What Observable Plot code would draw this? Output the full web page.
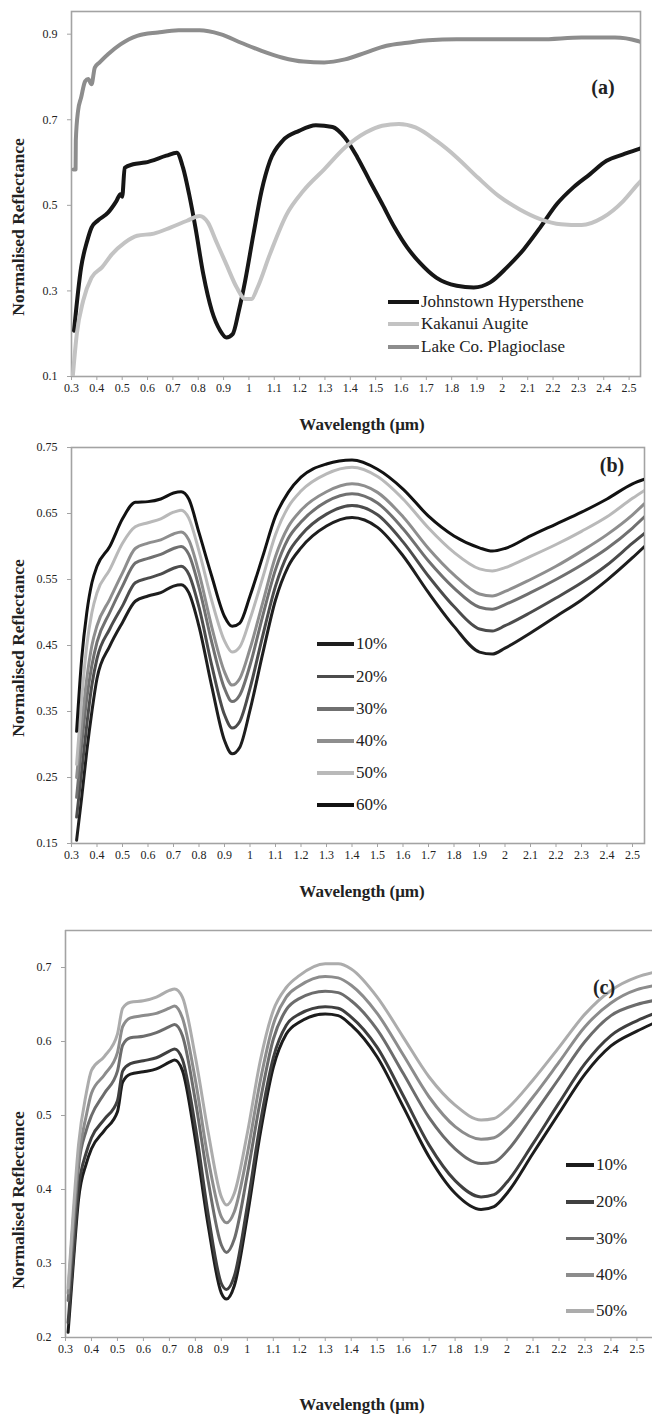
<!DOCTYPE html>
<html><head><meta charset="utf-8">
<script src="https://cdn.jsdelivr.net/npm/d3@7"></script>
<script src="https://cdn.jsdelivr.net/npm/@observablehq/plot@0.6"></script>
<style>
html,body{margin:0;padding:0;background:#fff;}
#root{position:relative;width:652px;height:1414px;overflow:hidden;font-family:"Liberation Serif","Times New Roman",serif;color:#222;}
#root svg text{font-family:"Liberation Serif","Times New Roman",serif;}
.panel{position:absolute;left:0;}
.lab{position:absolute;white-space:nowrap;}
.xt{font-weight:bold;font-size:17px;transform:translate(-50%,-50%);}
.yt{font-weight:bold;font-size:17.5px;transform:translate(-50%,-50%) rotate(-90deg);}
.tag{font-weight:bold;font-size:20px;transform:translate(-50%,-50%);}
.leg{position:absolute;display:flex;align-items:center;font-size:17px;white-space:nowrap;transform:translateY(-50%);}
.sw{display:inline-block;height:4px;margin-right:2px;}
</style></head><body><div id="root"></div>
<script>
// ---------- shared x ticks ----------
const xTicks = [0.3,0.4,0.5,0.6,0.7,0.8,0.9,1.0,1.1,1.2,1.3,1.4,1.5,1.6,1.7,1.8,1.9,2.0,2.1,2.2,2.3,2.4,2.5];
const xTickLabels = ["0.3","0.4","0.5","0.6","0.7","0.8","0.9","1","1.1","1.2","1.3","1.4","1.5","1.6","1.7","1.8","1.9","2","2.1","2.2","2.3","2.4","2.5"];

// ---------- panel (a) ----------
const yTicksA = [0.1,0.3,0.5,0.7,0.9];
const yTickLabelsA = ["0.1","0.3","0.5","0.7","0.9"];
const seriesA = ["Johnstown Hypersthene","Kakanui Augite","Lake Co. Plagioclase"];
const hyperWl = [0.31,0.338,0.362,0.379,0.403,0.444,0.477,0.493,0.50,0.51,0.543,0.59,0.674,0.715,0.74,0.764,0.789,0.82,0.854,0.887,0.911,0.936,0.96,0.985,1.018,1.05,1.083,1.133,1.198,1.264,1.33,1.379,1.428,1.477,1.526,1.575,1.625,1.674,1.739,1.82,1.887,1.952,2.018,2.084,2.149,2.215,2.28,2.346,2.411,2.477,2.534,2.545];
const hyperR = [0.207,0.355,0.417,0.448,0.464,0.483,0.51,0.526,0.52,0.588,0.596,0.60,0.616,0.623,0.588,0.526,0.448,0.339,0.253,0.207,0.191,0.199,0.253,0.323,0.433,0.534,0.604,0.651,0.674,0.687,0.683,0.658,0.612,0.557,0.503,0.448,0.401,0.366,0.331,0.312,0.308,0.32,0.355,0.397,0.448,0.503,0.542,0.573,0.604,0.619,0.631,0.633];
const augWl = [0.305,0.321,0.346,0.379,0.42,0.46,0.51,0.559,0.625,0.69,0.756,0.805,0.838,0.87,0.911,0.952,0.985,1.01,1.034,1.083,1.149,1.215,1.297,1.379,1.461,1.526,1.592,1.657,1.739,1.82,1.903,1.985,2.067,2.149,2.231,2.313,2.395,2.477,2.534,2.545];
const augR = [0.10,0.20,0.277,0.331,0.355,0.386,0.413,0.429,0.434,0.448,0.464,0.475,0.46,0.417,0.362,0.308,0.281,0.281,0.308,0.386,0.479,0.534,0.584,0.635,0.67,0.686,0.69,0.682,0.651,0.612,0.565,0.522,0.491,0.468,0.456,0.454,0.471,0.51,0.549,0.556];
const plagWl = [0.308,0.316,0.317,0.326,0.338,0.354,0.366,0.379,0.392,0.411,0.444,0.493,0.559,0.641,0.723,0.805,0.887,0.969,1.05,1.133,1.215,1.297,1.379,1.461,1.543,1.625,1.707,1.82,1.985,2.149,2.313,2.444,2.534,2.545];
const plagR = [0.584,0.584,0.651,0.721,0.752,0.79,0.795,0.783,0.822,0.834,0.853,0.876,0.896,0.904,0.909,0.909,0.90,0.88,0.861,0.845,0.836,0.834,0.841,0.857,0.873,0.88,0.886,0.888,0.888,0.888,0.892,0.892,0.884,0.882];
const colorsA = ["#161616","#c3c3c3","#8d8d8d"];

// ---------- panel (b) ----------
const yTicksB = [0.15,0.25,0.35,0.45,0.55,0.65,0.75];
const yTickLabelsB = ["0.15","0.25","0.35","0.45","0.55","0.65","0.75"];
const seriesB = ["10%","20%","30%","40%","50%","60%"];
const bWl = [0.32,0.34,0.36,0.38,0.40,0.45,0.50,0.55,0.60,0.65,0.70,0.73,0.76,0.80,0.85,0.90,0.93,0.96,1.00,1.05,1.10,1.15,1.20,1.30,1.40,1.50,1.60,1.70,1.80,1.90,1.95,2.00,2.10,2.20,2.30,2.40,2.50,2.547];
const b10 = [0.155,0.22,0.29,0.35,0.40,0.449,0.485,0.517,0.525,0.530,0.540,0.542,0.530,0.479,0.388,0.306,0.286,0.296,0.352,0.438,0.519,0.570,0.598,0.631,0.644,0.629,0.586,0.530,0.479,0.440,0.437,0.446,0.469,0.494,0.519,0.549,0.583,0.600];
const b20 = [0.19,0.26,0.33,0.39,0.43,0.475,0.51,0.545,0.552,0.558,0.567,0.570,0.558,0.508,0.420,0.345,0.325,0.335,0.385,0.465,0.540,0.590,0.617,0.649,0.662,0.648,0.607,0.555,0.509,0.475,0.472,0.480,0.500,0.522,0.545,0.572,0.605,0.620];
const b30 = [0.22,0.30,0.37,0.42,0.455,0.50,0.54,0.575,0.582,0.588,0.597,0.600,0.588,0.538,0.455,0.385,0.365,0.375,0.420,0.495,0.565,0.612,0.637,0.668,0.680,0.666,0.627,0.578,0.537,0.508,0.505,0.512,0.530,0.550,0.572,0.597,0.628,0.645];
const b40 = [0.25,0.33,0.40,0.45,0.48,0.52,0.56,0.597,0.605,0.610,0.619,0.622,0.610,0.560,0.478,0.410,0.390,0.400,0.445,0.515,0.585,0.630,0.655,0.683,0.695,0.682,0.645,0.597,0.557,0.528,0.525,0.532,0.550,0.570,0.593,0.618,0.648,0.665];
const b50 = [0.27,0.37,0.45,0.50,0.53,0.565,0.605,0.630,0.636,0.642,0.652,0.655,0.643,0.593,0.518,0.457,0.440,0.448,0.490,0.553,0.618,0.660,0.684,0.710,0.720,0.706,0.672,0.628,0.591,0.566,0.563,0.568,0.585,0.603,0.623,0.645,0.673,0.685];
const b60 = [0.32,0.43,0.50,0.545,0.570,0.600,0.642,0.667,0.668,0.672,0.681,0.683,0.672,0.621,0.555,0.494,0.479,0.484,0.525,0.585,0.646,0.682,0.705,0.725,0.731,0.717,0.687,0.646,0.616,0.598,0.593,0.597,0.616,0.634,0.652,0.672,0.695,0.702];
const colorsB = ["#1e1e1e","#4c4c4c","#707070","#8e8e8e","#b9b9b9","#121212"];

// ---------- panel (c) ----------
const yTicksC = [0.2,0.3,0.4,0.5,0.6,0.7];
const yTickLabelsC = ["0.2","0.3","0.4","0.5","0.6","0.7"];
const seriesC = ["10%","20%","30%","40%","50%"];
const cWl = [0.31,0.33,0.35,0.38,0.40,0.45,0.50,0.52,0.55,0.60,0.65,0.70,0.72,0.75,0.80,0.85,0.90,0.92,0.95,1.00,1.05,1.10,1.15,1.20,1.30,1.35,1.40,1.50,1.60,1.70,1.80,1.90,1.95,2.00,2.10,2.20,2.30,2.40,2.50,2.56];
const c10 = [0.207,0.30,0.386,0.435,0.455,0.48,0.505,0.545,0.556,0.559,0.563,0.572,0.575,0.561,0.467,0.350,0.260,0.252,0.270,0.364,0.476,0.565,0.610,0.626,0.637,0.635,0.622,0.579,0.512,0.444,0.395,0.373,0.377,0.395,0.449,0.503,0.556,0.594,0.614,0.624];
const c20 = [0.22,0.31,0.40,0.45,0.47,0.495,0.52,0.56,0.57,0.574,0.578,0.587,0.590,0.576,0.485,0.365,0.273,0.265,0.283,0.378,0.49,0.578,0.622,0.637,0.647,0.645,0.633,0.592,0.527,0.46,0.412,0.39,0.393,0.41,0.462,0.517,0.57,0.608,0.628,0.637];
const c30 = [0.25,0.34,0.43,0.48,0.50,0.53,0.56,0.595,0.605,0.607,0.612,0.62,0.623,0.608,0.52,0.41,0.325,0.315,0.333,0.42,0.52,0.603,0.643,0.658,0.668,0.666,0.655,0.616,0.557,0.497,0.455,0.435,0.437,0.452,0.5,0.55,0.6,0.635,0.65,0.655];
const c40 = [0.26,0.36,0.44,0.50,0.53,0.555,0.585,0.62,0.632,0.635,0.638,0.645,0.648,0.632,0.548,0.44,0.363,0.355,0.37,0.448,0.547,0.623,0.66,0.675,0.688,0.686,0.676,0.638,0.582,0.525,0.485,0.468,0.47,0.483,0.525,0.572,0.62,0.652,0.67,0.675];
const c50 = [0.267,0.37,0.46,0.53,0.561,0.58,0.61,0.645,0.653,0.655,0.66,0.669,0.671,0.66,0.579,0.476,0.39,0.379,0.395,0.476,0.574,0.642,0.673,0.689,0.705,0.705,0.698,0.66,0.606,0.552,0.514,0.494,0.496,0.509,0.548,0.592,0.637,0.669,0.687,0.693];
const colorsC = ["#1c1c1c","#404040","#6c6c6c","#8c8c8c","#acacac"];

// ---------- builder ----------
const FONT = '"Liberation Serif","Times New Roman",serif';
const root = document.getElementById("root");
const xLabelMap = new Map(xTicks.map((t, i) => [t, xTickLabels[i]]));
const pairs = (wl, r) => wl.slice(0, Math.min(wl.length, r.length)).map((w, i) => ({w, r: r[i]}));
const AXIS = "#a3a3a3";

function panel(cfg) {
  const yMap = new Map(cfg.yTicks.map((t, i) => [t, cfg.yLabels[i]]));
  const marks = [];
  if (cfg.fullFrame) {
    marks.push(Plot.frame({stroke: AXIS, strokeWidth: 1.6}));
  } else {
    marks.push(Plot.ruleY([cfg.yDomain[0], cfg.yDomain[1]], {stroke: AXIS, strokeWidth: 1.6}));
    marks.push(Plot.ruleX([cfg.xDomain[0]], {stroke: AXIS, strokeWidth: 1.6}));
  }
  marks.push(Plot.axisX({ticks: xTicks, tickSize: 4, tickPadding: 3, tickFormat: d => xLabelMap.get(d), stroke: AXIS, fill: "#222", fontSize: 12, fontFamily: FONT, label: null}));
  marks.push(Plot.axisY({ticks: cfg.yTicks, tickSize: 4, tickPadding: 10, tickFormat: d => yMap.get(d), stroke: AXIS, fill: "#222", fontSize: 12, fontFamily: FONT, label: null}));
  cfg.series.forEach((s, i) => {
    marks.push(Plot.line(pairs(s.wl, s.r), {x: "w", y: "r", stroke: cfg.colors[i], strokeWidth: cfg.sw, curve: "monotone-x", clip: true}));
  });
  const svg = Plot.plot({
    width: 652, height: cfg.height,
    marginLeft: cfg.ml, marginRight: cfg.mr, marginTop: cfg.mt, marginBottom: cfg.mb,
    x: {domain: cfg.xDomain, label: null},
    y: {domain: cfg.yDomain, label: null},
    style: {fontFamily: FONT, fontSize: "12px", background: "transparent", color: "#222"},
    marks
  });
  svg.classList.add("panel");
  svg.style.top = cfg.top + "px";
  root.appendChild(svg);
}

function label(cls, text, x, y) {
  const d = document.createElement("div");
  d.className = "lab " + cls;
  d.textContent = text;
  d.style.left = x + "px"; d.style.top = y + "px";
  root.appendChild(d);
}
function legend(names, colors, x0, lineW, ys, thick) {
  names.forEach((n, i) => {
    const d = document.createElement("div");
    d.className = "leg";
    d.style.left = x0 + "px"; d.style.top = ys[i] + "px";
    const sw = document.createElement("span");
    sw.className = "sw"; sw.style.width = lineW + "px"; sw.style.height = thick + "px"; sw.style.background = colors[i];
    const t = document.createElement("span"); t.textContent = n;
    d.appendChild(sw); d.appendChild(t);
    root.appendChild(d);
  });
}

// panel (a)
panel({top: 0, height: 440, ml: 71, mr: 12, mt: 11, mb: 64, xDomain: [0.3, 2.545], yDomain: [0.1, 0.953],
  yTicks: yTicksA, yLabels: yTickLabelsA, fullFrame: true, sw: 4, colors: colorsA,
  series: [{wl: hyperWl, r: hyperR}, {wl: augWl, r: augR}, {wl: plagWl, r: plagR}]});
legend(seriesA, colorsA, 388, 31, [301.7, 324, 346.7], 4);
label("tag", "(a)", 603, 87);
label("xt", "Wavelength (\u03bcm)", 362, 425);
label("yt", "Normalised Reflectance", 18, 227);

// panel (b)
panel({top: 440, height: 460, ml: 71, mr: 8, mt: 7, mb: 57, xDomain: [0.3, 2.547], yDomain: [0.15, 0.75],
  yTicks: yTicksB, yLabels: yTickLabelsB, fullFrame: true, sw: 3, colors: colorsB,
  series: [{wl: bWl, r: b10}, {wl: bWl, r: b20}, {wl: bWl, r: b30}, {wl: bWl, r: b40}, {wl: bWl, r: b50}, {wl: bWl, r: b60}]});
legend(seriesB, colorsB, 317, 37, [644, 676.5, 709, 741, 773, 805], 3.5);
label("tag", "(b)", 612, 465);
label("xt", "Wavelength (\u03bcm)", 362, 892);
label("yt", "Normalised Reflectance", 18, 648);

// panel (c)
panel({top: 900, height: 514, ml: 65, mr: 0, mt: 30, mb: 77, xDomain: [0.3, 2.56], yDomain: [0.2, 0.75],
  yTicks: yTicksC, yLabels: yTickLabelsC, fullFrame: false, sw: 3, colors: colorsC,
  series: [{wl: cWl, r: c10}, {wl: cWl, r: c20}, {wl: cWl, r: c30}, {wl: cWl, r: c40}, {wl: cWl, r: c50}]});
legend(seriesC, colorsC, 566, 28, [1165, 1202, 1238.5, 1275, 1311], 3.5);
label("tag", "(c)", 604, 987);
label("xt", "Wavelength (\u03bcm)", 362, 1405);
label("yt", "Normalised Reflectance", 18, 1200);
</script></body></html>
